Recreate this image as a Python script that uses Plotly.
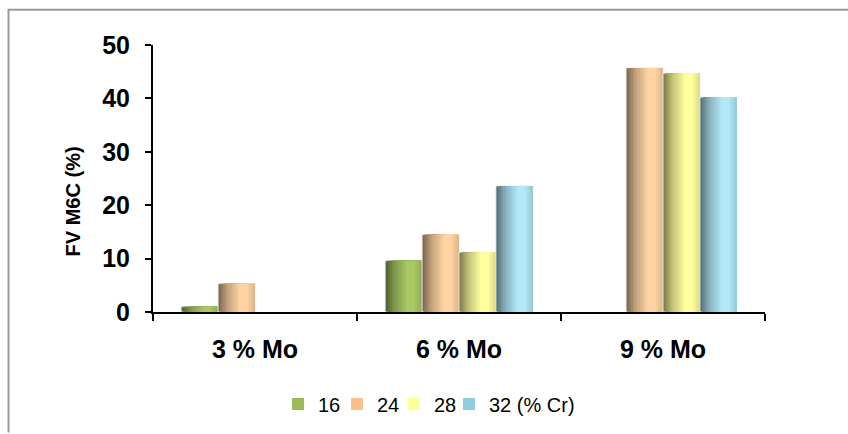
import plotly.graph_objects as go

# Mo content groups and Cr series
categories = ["3 % Mo", "6 % Mo", "9 % Mo"]
series_names = ["16", "24", "28", "32 (% Cr)"]
fv_16 = [1.0, 9.6, None]
fv_24 = [5.3, 14.5, 45.7]
fv_28 = [None, 11.2, 44.7]
fv_32 = [None, 23.6, 40.2]
y_ticks = [0, 10, 20, 30, 40, 50]

series_values = [fv_16, fv_24, fv_28, fv_32]
legend_colors = ["#9BBB59", "#FAC08F", "#FFFF99", "#93CDDD"]
light_colors = [(168, 200, 100), (255, 212, 162), (255, 255, 158), (178, 232, 248)]
# each legend entry has its own box, giving a compact, evenly packed row
legend_ids = ["legend", "legend2", "legend3", "legend4"]
legend_swatch_px = [292, 351, 408, 463]

FONT = "Arial, Liberation Sans, sans-serif"
BAR_W = 0.181          # width of one bar in category units
N_SLICES = 16          # vertical strips used for the cylinder shading


def shade(rgb, t):
    # brightness profile across the bar: dark left edge, highlight, slight fall-off at right
    pts = [(0.0, 0.46), (0.25, 0.76), (0.6, 1.0), (0.78, 1.0), (1.0, 0.85)]
    for (t0, b0), (t1, b1) in zip(pts[:-1], pts[1:]):
        if t0 <= t <= t1:
            b = b0 + (b1 - b0) * (t - t0) / (t1 - t0)
            break
    r, g, bl = (min(255, int(round(c * b))) for c in rgb)
    return f"rgb({r},{g},{bl})"


fig = go.Figure()
group_left = -2 * BAR_W
for i, (name, vals) in enumerate(zip(series_names, series_values)):
    bar_left = group_left + i * BAR_W
    bar_right = bar_left + BAR_W
    for k in range(N_SLICES):
        start = bar_left + k * BAR_W / N_SLICES
        t = (k + 0.5) / N_SLICES
        fig.add_trace(go.Bar(
            x=categories, y=vals,
            offset=start, width=bar_right - start,
            marker=dict(color=shade(light_colors[i], t),
                        line=dict(width=1 if k == 0 else 0, color="rgba(235,235,235,0.9)")),
            showlegend=False, hoverinfo="skip",
        ))
    # legend entry for the series
    fig.add_trace(go.Bar(
        x=[categories[0]], y=[0], width=0.0001, name=name,
        marker=dict(color=legend_colors[i], line=dict(width=0)),
        legend=legend_ids[i], hoverinfo="skip",
    ))

# axis geometry in pixels
L, R, T, B = 153, 83, 45, 121
W, H = 848, 434
pw, ph = W - L - R, H - T - B


def px(x):
    return (x - L) / pw


def py(y):
    return (H - B - y) / ph


legend_style = dict(
    orientation="h", yanchor="middle", xanchor="left", y=py(404),
    font=dict(family=FONT, size=20, color="black"),
    itemsizing="constant", traceorder="normal",
    bgcolor="rgba(0,0,0,0)",
)
legends = {lid: dict(legend_style, x=px(sx - 14)) for lid, sx in zip(legend_ids, legend_swatch_px)}

fig.update_layout(
    width=W, height=H,
    margin=dict(l=L, r=R, t=T, b=B, pad=0),
    paper_bgcolor="white", plot_bgcolor="white",
    barmode="overlay",
    font=dict(family=FONT, color="black"),
    xaxis=dict(
        type="category", range=[-0.5, 2.5],
        showline=True, linecolor="black", linewidth=2,
        ticks="outside", tickson="boundaries", ticklen=7, tickwidth=2, tickcolor="black",
        tickfont=dict(family=FONT, size=25, color="black", weight="bold"),
        ticklabelstandoff=14,
        showgrid=False, zeroline=False, fixedrange=True,
    ),
    yaxis=dict(
        range=[0, 50], tickvals=y_ticks,
        showline=True, linecolor="black", linewidth=2,
        ticks="outside", ticklen=6, tickwidth=2, tickcolor="black",
        tickfont=dict(family=FONT, size=25, color="black", weight="bold"),
        ticklabelstandoff=10,
        showgrid=False, zeroline=False, fixedrange=True,
    ),
    showlegend=True,
    annotations=[dict(
        text="FV M6C (%)", textangle=-90, showarrow=False,
        xref="paper", yref="paper", x=px(73), y=py(202),
        xanchor="center", yanchor="middle",
        font=dict(family=FONT, size=20, color="black", weight="bold"),
    )],
    shapes=[
        dict(type="line", xref="paper", yref="paper", x0=px(8), x1=px(848), y0=py(9.5), y1=py(9.5),
             line=dict(color="#999999", width=2)),
        dict(type="line", xref="paper", yref="paper", x0=px(8.5), x1=px(8.5), y0=py(9), y1=py(434),
             line=dict(color="#999999", width=2)),
    ],
    **legends,
)

fig.write_html("out.html", config={"displayModeBar": False})
